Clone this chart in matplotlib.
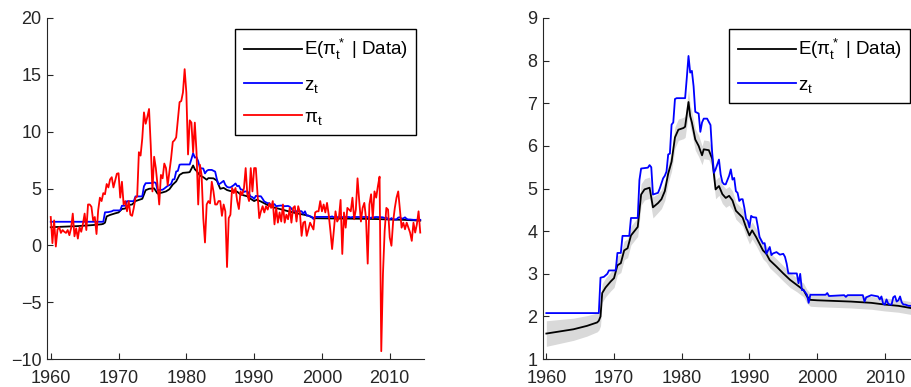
import numpy as np
import matplotlib
matplotlib.use("Agg")
import matplotlib.pyplot as plt

plt.rcParams["font.family"] = ["Liberation Sans", "DejaVu Sans"]
plt.rcParams["mathtext.fontset"] = "custom"
plt.rcParams["mathtext.rm"] = "Liberation Sans"
plt.rcParams["mathtext.it"] = "Liberation Sans"
plt.rcParams["mathtext.default"] = "regular"

# ---- data ------------------------------------------------------------------
# quarterly realised inflation pi_t, starting 1960Q1
pi_start = 1960.0
pi_vals = [
    2.5, 0.2, 2.2, -0.1,    # 1960
    1.4, 1.6, 1.1, 1.35,    # 1961
    1.2, 1.1, 1.35, 0.9,    # 1962
    1.5, 2.8, 0.8, 1.5,     # 1963
    0.6, 1.6, 1.2, 1.9,     # 1964
    2.8, 1.35, 3.6, 3.6,    # 1965
    3.4, 2.2, 2.5, 1.0,     # 1966
    3.1, 4.2, 3.9, 4.6,     # 1967
    4.5, 5.4, 5.1, 5.8,     # 1968
    6.0, 5.1, 5.7, 6.3,     # 1969
    6.35, 4.2, 5.6, 3.6,    # 1970
    3.9, 3.0, 3.9, 2.7,     # 1971
    2.6, 3.3, 4.2, 4.3,     # 1972
    8.2, 7.9, 9.4, 11.7,    # 1973
    10.7, 11.3, 12.0, 8.8,  # 1974
    4.75, 7.8, 6.8, 5.3,    # 1975
    3.6, 6.2, 5.9, 7.2,     # 1976
    6.8, 5.3, 6.5, 7.65,    # 1977
    9.1, 9.25, 9.5, 11.1,   # 1978
    12.6, 12.7, 13.45, 15.5,  # 1979
    13.45, 8.0, 11.0, 10.8,   # 1980
    8.2, 10.8, 8.2, 3.6,    # 1981
    7.1, 6.2, 2.4, 0.26,    # 1982
    3.6, 3.9, 3.7, 5.6,     # 1983
    4.75, 3.6, 3.6, 3.9,    # 1984
    3.9, 2.6, 3.6, 3.0,     # 1985
    -1.9, 2.4, 2.7, 5.05,   # 1986
    4.6, 5.05, 3.9, 3.2,    # 1987
    4.75, 4.45, 5.05, 6.8,  # 1988
    4.45, 3.9, 6.8, 4.75,   # 1989
    6.8, 6.8, 4.5, 2.4,     # 1990
    3.0, 3.45, 2.9, 3.45,   # 1991
    3.15, 3.7, 3.3, 3.9,    # 1992
    1.85, 3.3, 2.0, 2.9,    # 1993
    2.1, 3.6, 2.0, 2.7,     # 1994
    2.3, 3.3, 2.0, 3.3,     # 1995
    3.45, 2.1, 3.45, 2.9,   # 1996
    0.84, 2.0, 2.1, 0.84,   # 1997
    1.4, 2.0, 1.7, 1.4,     # 1998
    2.9, 3.0, 3.0, 3.9,     # 1999
    3.0, 3.6, 2.9, 3.74,    # 2000
    2.7, 1.27, -0.32, 1.27,  # 2001
    3.0, 2.1, 2.4, 4.0,     # 2002
    -0.75, 2.9, 1.56, 3.3,  # 2003
    3.15, 3.0, 4.2, 2.3,    # 2004
    3.15, 5.9, 3.9, 2.1,    # 2005
    3.3, 3.74, 2.4, -1.6,   # 2006
    3.6, 4.5, 2.4, 4.75,    # 2007
    4.2, 5.2, 6.05, -9.3,   # 2008
    -2.5, 1.27, 3.3, 3.15,  # 2009
    0.7, -0.03, 2.1, 3.3,   # 2010
    4.2, 4.75, 3.15, 1.56,  # 2011
    2.0, 1.42, 2.0, 1.56,   # 2012
    1.13, 0.4, 2.0, 1.13,   # 2013
    1.85, 3.0, 1.13,        # 2014
]

# posterior mean of trend inflation E(pi*_t | Data) and band half-width
star_years = [1960.0, 1962.0, 1964.0, 1966.0, 1967.5, 1967.75, 1968.0, 1968.25,
              1968.75, 1969.5, 1970.0, 1970.5, 1971.0, 1971.5, 1972.0, 1972.5,
              1973.0, 1973.5, 1974.0, 1974.5, 1975.25, 1975.75, 1976.5, 1977.0,
              1977.5, 1978.0, 1978.5, 1979.0, 1979.5, 1980.25, 1980.5, 1981.0,
              1981.25, 1981.5, 1982.0, 1982.5, 1983.0, 1983.25, 1984.0, 1984.5,
              1985.0, 1985.5, 1986.0, 1986.5, 1987.0, 1987.5, 1988.0, 1989.0,
              1989.5, 1990.0, 1990.4, 1991.0, 1992.0, 1992.5, 1993.0, 1994.0,
              1995.0, 1996.0, 1997.0, 1998.0, 1998.5, 1999.0, 2000.0, 2005.0,
              2008.0, 2010.0, 2012.0, 2014.5]
star_mean = [1.60, 1.65, 1.70, 1.78, 1.86, 1.90, 2.00, 2.55,
             2.68, 2.82, 2.90, 3.20, 3.25, 3.55, 3.60, 3.90,
             4.00, 4.10, 4.86, 4.98, 5.02, 4.56, 4.66, 4.75,
             4.94, 5.35, 5.63, 6.20, 6.38, 6.42, 6.45, 7.03,
             6.70, 6.55, 6.15, 6.00, 5.78, 5.92, 5.90, 5.70,
             4.98, 5.06, 4.87, 4.78, 4.83, 4.72, 4.48, 4.32,
             4.09, 3.90, 4.02, 3.86, 3.55, 3.47, 3.32, 3.17,
             3.01, 2.86, 2.74, 2.62, 2.47, 2.39, 2.38, 2.35,
             2.32, 2.28, 2.25, 2.18]
star_band = [0.30, 0.28, 0.26, 0.24, 0.22, 0.22, 0.22, 0.22,
             0.22, 0.22, 0.22, 0.22, 0.22, 0.22, 0.22, 0.22,
             0.22, 0.22, 0.25, 0.25, 0.25, 0.25, 0.22, 0.22,
             0.22, 0.22, 0.22, 0.25, 0.25, 0.25, 0.25, 0.28,
             0.25, 0.25, 0.25, 0.25, 0.22, 0.22, 0.22, 0.22,
             0.22, 0.22, 0.22, 0.22, 0.22, 0.22, 0.20, 0.20,
             0.20, 0.20, 0.20, 0.20, 0.20, 0.20, 0.18, 0.18,
             0.18, 0.18, 0.16, 0.16, 0.16, 0.15, 0.15, 0.15,
             0.15, 0.15, 0.15, 0.15]

# survey-based expectation z_t
z_years = [1960.0, 1967.75, 1968.0, 1968.5, 1969.0, 1969.25, 1970.25, 1970.5,
           1971.0, 1971.25, 1972.25, 1972.5, 1973.5, 1973.75, 1974.0, 1975.0,
           1975.25, 1975.5, 1975.75, 1976.5, 1976.75, 1977.25, 1977.5, 1977.75,
           1978.0, 1978.25, 1978.5, 1978.75, 1979.0, 1979.25, 1980.5, 1980.75,
           1981.0, 1981.25, 1981.5, 1981.75, 1982.0, 1982.5, 1982.75, 1983.0,
           1983.25, 1983.75, 1984.25, 1984.5, 1984.75, 1985.0, 1985.5, 1985.75,
           1986.0, 1986.25, 1986.5, 1986.75, 1987.0, 1987.25, 1987.5, 1987.75,
           1988.0, 1988.25, 1988.5, 1988.75, 1989.0, 1989.25, 1989.5, 1989.75,
           1990.0, 1990.25, 1990.5, 1991.0, 1991.25, 1991.5, 1992.0, 1992.25,
           1992.5, 1992.75, 1993.0, 1993.25, 1993.5, 1994.0, 1994.5, 1995.0,
           1995.25, 1995.5, 1995.75, 1997.0, 1997.25, 1997.5, 1997.75, 1998.0,
           1998.5, 1998.75, 1999.0, 2001.25, 2001.5, 2001.75, 2004.0, 2004.25,
           2004.5, 2006.75, 2007.0, 2007.25, 2008.0, 2009.0, 2009.25, 2009.5,
           2009.75, 2010.0, 2010.25, 2010.5, 2010.75, 2011.0, 2011.25, 2011.5,
           2011.75, 2012.0, 2012.25, 2012.5, 2012.75, 2013.0, 2013.5, 2014.0,
           2014.5]
z_vals = [2.08, 2.08, 2.91, 2.93, 3.00, 3.08, 3.08, 3.49,
          3.49, 3.89, 3.89, 4.31, 4.31, 5.20, 5.47, 5.49,
          5.55, 5.50, 4.86, 4.90, 5.00, 5.24, 5.30, 5.40,
          5.80, 5.82, 6.50, 6.55, 7.10, 7.12, 7.12, 7.60,
          8.11, 7.72, 7.76, 7.40, 6.80, 6.76, 6.33, 6.55,
          6.64, 6.64, 6.49, 5.83, 5.37, 5.45, 5.68, 5.33,
          5.15, 5.10, 5.10, 5.20, 5.30, 5.45, 5.21, 5.25,
          4.94, 4.90, 4.71, 4.75, 4.75, 4.55, 4.29, 4.25,
          4.09, 4.36, 4.33, 4.32, 4.10, 3.86, 3.71, 3.72,
          3.47, 3.55, 3.63, 3.44, 3.48, 3.51, 3.45, 3.47,
          3.40, 3.24, 3.01, 3.01, 2.78, 3.00, 2.62, 2.62,
          2.51, 2.32, 2.51, 2.51, 2.55, 2.48, 2.50, 2.46,
          2.50, 2.50, 2.35, 2.45, 2.50, 2.47, 2.40, 2.47,
          2.30, 2.28, 2.40, 2.30, 2.28, 2.28, 2.45, 2.48,
          2.35, 2.38, 2.47, 2.33, 2.28, 2.28, 2.25, 2.25,
          2.25]

x_ticks = [1960, 1970, 1980, 1990, 2000, 2010]
left_yticks = [-10, -5, 0, 5, 10, 15, 20]
right_yticks = [1, 2, 3, 4, 5, 6, 7, 8, 9]

STAR_LABEL = r"E($\pi_t^*$ | Data)"
Z_LABEL = r"$z_t$"
PI_LABEL = r"$\pi_t$"

AX_COLOR = "#262626"
FS = 13.5
TICK_FS = 13
LW = 1.3

pi_years = pi_start + 0.25 * np.arange(len(pi_vals))
star_years = np.array(star_years)
star_mean = np.array(star_mean)
star_band = np.array(star_band)


def style_axes(ax):
    for side in ("top", "right"):
        ax.spines[side].set_visible(False)
    for side in ("left", "bottom"):
        ax.spines[side].set_color(AX_COLOR)
        ax.spines[side].set_linewidth(0.8)
    ax.tick_params(axis="both", direction="in", length=4, width=0.8,
                   colors=AX_COLOR, labelsize=TICK_FS)
    ax.tick_params(axis="x", pad=7.5)
    ax.tick_params(axis="y", pad=4)
    ax.set_xticks(x_ticks)


def style_legend(ax, right):
    leg = ax.legend(loc="upper right", bbox_to_anchor=(right, 0.968), fontsize=FS,
                    handlelength=3.1, handletextpad=0.1, labelspacing=0.75,
                    borderpad=0.45, borderaxespad=0, fancybox=False, framealpha=1)
    leg.get_frame().set_edgecolor("black")
    leg.get_frame().set_linewidth(1.0)
    return leg


fig = plt.figure(figsize=(9.11, 3.87), dpi=100)
ax1 = fig.add_axes([0.0516, 0.072, 0.4138, 0.8815])
ax2 = fig.add_axes([0.596, 0.072, 0.4035, 0.8815])

# ---- left panel --------------------------------------------------------------
ax1.plot(star_years, star_mean, color="black", lw=LW, label=STAR_LABEL)
ax1.plot(z_years, z_vals, color="#0000ff", lw=LW, label=Z_LABEL)
ax1.plot(pi_years, pi_vals, color="#ff0000", lw=LW, label=PI_LABEL)
ax1.set_xlim(1959.45, 2015.05)
ax1.set_ylim(-10, 20)
ax1.set_yticks(left_yticks)
style_axes(ax1)
style_legend(ax1, 0.979)

# ---- right panel -------------------------------------------------------------
ax2.fill_between(star_years, star_mean - star_band, star_mean + star_band,
                 color="#d9d9d9", lw=0)
ax2.plot(star_years, star_mean, color="black", lw=LW, label=STAR_LABEL)
ax2.plot(z_years, z_vals, color="#0000ff", lw=LW, label=Z_LABEL)
ax2.set_xlim(1959.5, 2013.8)
ax2.set_ylim(1, 9)
ax2.set_yticks(right_yticks)
style_axes(ax2)
style_legend(ax2, 0.998)

fig.savefig("out.png", dpi=100)
